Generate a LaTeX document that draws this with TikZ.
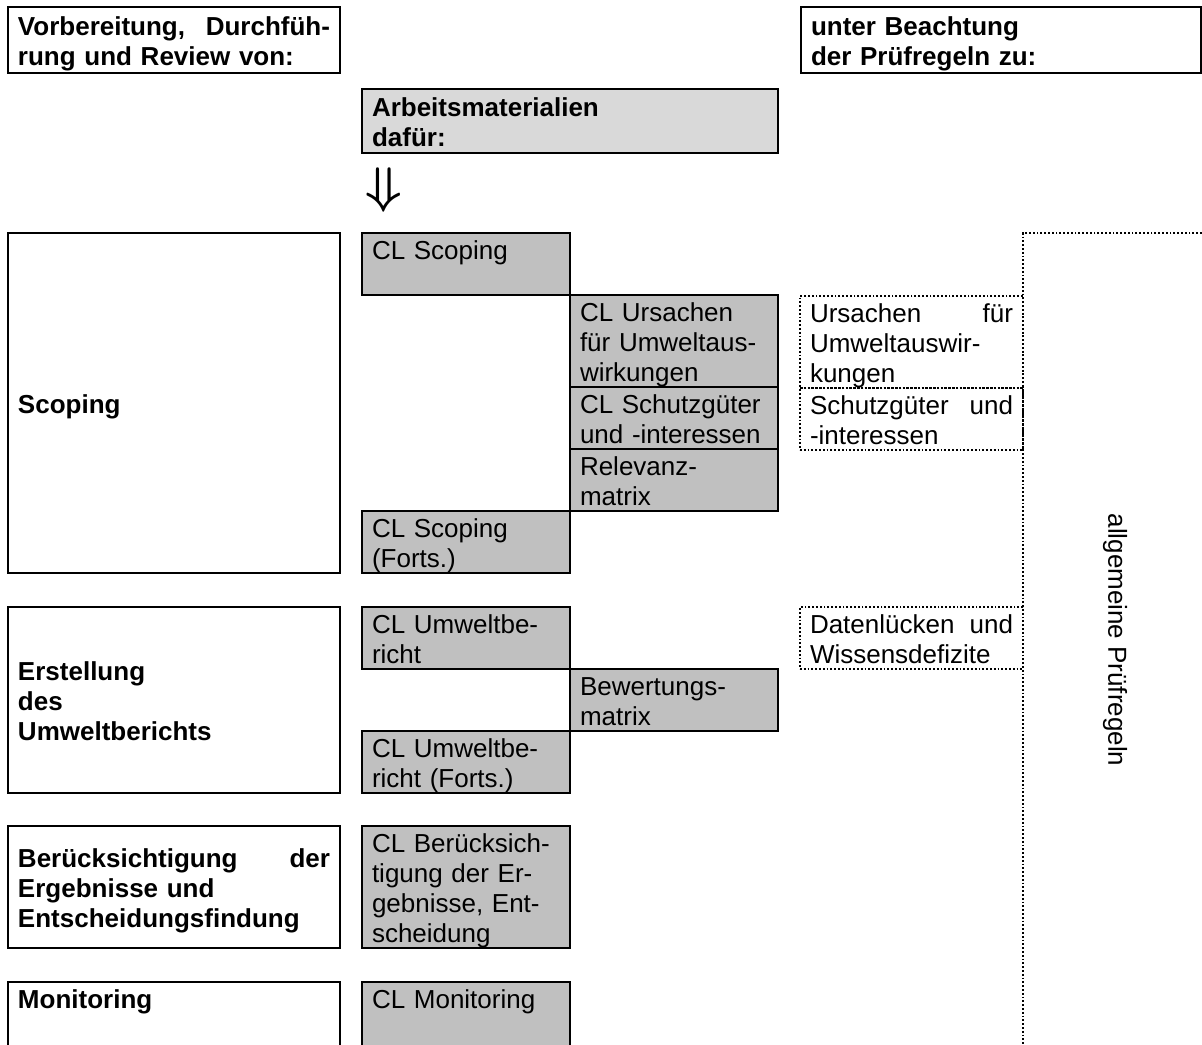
\documentclass[tikz,border=0pt]{standalone}
\usepackage{fontspec}
\setmainfont{Liberation Sans}
\usepackage{graphicx}
\usepackage{tikz}
\usetikzlibrary{positioning}

\definecolor{clgrau}{HTML}{C0C0C0}
\definecolor{hellgrau}{HTML}{D9D9D9}
\newcommand{\oben}{\rule{0pt}{13pt}}
\newcommand{\unten}{\rule[-3pt]{0pt}{3pt}}

\tikzset{
  zelle/.style={font=\fontsize{13}{15}\selectfont, anchor=north west,
                inner xsep=5pt, inner ysep=0pt, outer sep=0pt, align=left,
                execute at begin node=\oben, execute at end node=\unten},
  phase/.style={zelle, draw, line width=1pt, text width=156pt,
                font=\fontsize{13}{15}\selectfont\bfseries},
  kopf/.style={phase, minimum height=33pt},
  cl/.style={zelle, draw, line width=1pt, fill=clgrau, text width=94pt},
  regel/.style={zelle, draw, densely dotted, line width=0.9pt, text width=101.5pt},
  rahmen/.style={draw, densely dotted, line width=0.9pt, anchor=north west,
                 outer sep=0pt, minimum width=92pt, minimum height=407pt}
}

\begin{document}
\begin{tikzpicture}[x=0.5pt, y=-0.5pt]
  \useasboundingbox (0,0) rectangle (1202,1044);

  \node (vorb) [kopf] at (8,7) {Vorbereitung,\hfill Durchfüh-\\rung und Review von:};
  \node (beacht) [kopf, text width=190pt] at (801,7) {unter Beachtung\\der Prüfregeln zu:};
  \node (arbeit) [kopf, fill=hellgrau, text width=198pt, minimum height=32pt]
    at (362,89) {Arbeitsmaterialien\\dafür:};
  \node (pfeil) at (384,190) {\scalebox{2.6}[2.5]{\boldmath$\Downarrow$}};

  \node (scop) [phase, minimum height=170pt] at (8,233) {Scoping};
  \node (clscop) [cl] at (362,233) {CL Scoping\\\mbox{}};
  \node (clurs) [cl, below right=0pt and 0pt of clscop]
    {CL Ursachen\\für Umweltaus-\\wirkungen};
  \node (clschutz) [cl, below=0pt of clurs] {CL Schutzgüter\\und -interessen};
  \node (clrel) [cl, below=0pt of clschutz] {Relevanz-\\matrix};
  \node (clscopf) [cl, below left=0pt and 0pt of clrel] {CL Scoping\\(Forts.)};

  \node (urs) [regel] at (800,296) {Ursachen\hfill für\\Umweltauswir-\\kungen};
  \node (schutz) [regel, below=0pt of urs] {Schutzgüter\hfill und\\-interessen};

  \node (erst) [phase, minimum height=93pt] at (8,607)
    {Erstellung\\des\\Umweltberichts};
  \node (club) [cl] at (362,607) {CL Umweltbe-\\richt};
  \node (clbew) [cl, below right=0pt and 0pt of club] {Bewertungs-\\matrix};
  \node (clubf) [cl, below left=0pt and 0pt of clbew] {CL Umweltbe-\\richt (Forts.)};
  \node (daten) [regel] at (800,607) {Datenlücken\hfill und\\Wissensdefizite};

  \node (beruck) [phase, minimum height=61pt] at (8,826)
    {Berücksichtigung\hfill der\\Ergebnisse und\\Entscheidungsfindung};
  \node (clberuck) [cl] at (362,826)
    {CL Berücksich-\\tigung der Er-\\gebnisse, Ent-\\scheidung};

  \node (moni) [phase] at (8,982) {Monitoring\\\mbox{}\\\mbox{}};
  \node (clmoni) [cl] at (362,982) {CL Monitoring\\\mbox{}\\\mbox{}};

  \node (rahmen) [rahmen] at (1023,233) {};
  \node (allg) [font=\fontsize{13}{15}\selectfont, rotate=-90] at (rahmen.center)
    {allgemeine Prüfregeln};
\end{tikzpicture}
\end{document}
